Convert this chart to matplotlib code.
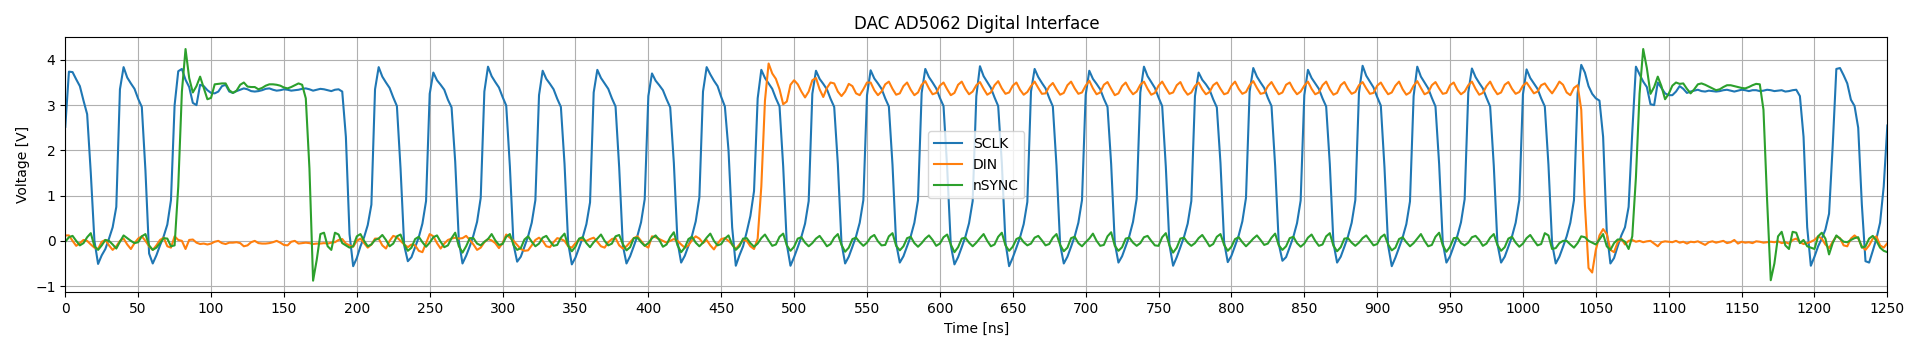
import numpy as np
import matplotlib
matplotlib.use("Agg")
import matplotlib.pyplot as plt

sample_step_ns = 2.5
series_names = ["SCLK", "DIN", "nSYNC"]
x_ticks = list(range(0, 1251, 50))
y_ticks = [-1, 0, 1, 2, 3, 4]

# SCLK: t = 0 .. 212.5
sclk_start = [2.52, 3.74, 3.73, 3.57, 3.42, 3.1, 2.8, 1.5, 0.0, -0.51,
              -0.32, -0.18, 0.05, 0.3, 0.75, 3.35, 3.84, 3.61, 3.48, 3.36,
              3.14, 2.96, 1.55, -0.28, -0.5, -0.32, -0.1, 0.1, 0.36, 0.9,
              3.0, 3.75, 3.8, 3.56, 3.4, 3.05, 3.0, 3.45, 3.42, 3.33,
              3.27, 3.26, 3.3, 3.42, 3.45, 3.3, 3.27, 3.31, 3.34, 3.37,
              3.35, 3.31, 3.3, 3.31, 3.33, 3.36, 3.37, 3.34, 3.32, 3.33,
              3.35, 3.34, 3.32, 3.33, 3.34, 3.36, 3.37, 3.35, 3.32, 3.34,
              3.36, 3.35, 3.33, 3.31, 3.34, 3.35, 3.3, 2.3, 0.15, -0.56,
              -0.38, -0.12, 0.08, 0.35, 0.8, 3.35]
# SCLK clock cycles, each starting at its peak: 215, 252.5, ..., 1040 ns
sclk_cycles = [
    [3.84, 3.63, 3.5, 3.38, 3.17, 2.98, 1.6, -0.1, -0.45, -0.36, -0.14, 0.08, 0.38, 0.88, 3.25],
    [3.72, 3.55, 3.45, 3.34, 3.12, 2.95, 1.75, 0.0, -0.5, -0.33, -0.12, 0.12, 0.42, 0.95, 3.3],
    [3.85, 3.64, 3.51, 3.39, 3.18, 2.99, 1.65, -0.08, -0.46, -0.35, -0.13, 0.1, 0.4, 0.9, 3.22],
    [3.76, 3.58, 3.47, 3.35, 3.14, 2.96, 1.7, -0.05, -0.52, -0.37, -0.15, 0.08, 0.37, 0.85, 3.28],
    [3.78, 3.6, 3.48, 3.36, 3.15, 2.97, 1.62, -0.1, -0.5, -0.34, -0.12, 0.11, 0.41, 0.92, 3.2],
    [3.7, 3.54, 3.44, 3.33, 3.13, 2.95, 1.72, -0.02, -0.48, -0.33, -0.11, 0.12, 0.43, 0.96, 3.3],
    [3.84, 3.68, 3.54, 3.42, 3.18, 2.97, 2.0, 0.3, -0.55, -0.32, -0.12, 0.2, 0.55, 1.1, 3.15],
    [3.78, 3.6, 3.48, 3.36, 3.15, 2.97, 1.65, -0.08, -0.55, -0.36, -0.14, 0.09, 0.38, 0.88, 3.25],
    [3.76, 3.58, 3.47, 3.35, 3.14, 2.96, 1.7, -0.05, -0.5, -0.35, -0.13, 0.1, 0.4, 0.9, 3.22],
    [3.77, 3.59, 3.48, 3.36, 3.15, 2.97, 1.68, -0.06, -0.48, -0.34, -0.12, 0.1, 0.4, 0.9, 3.27],
    [3.8, 3.62, 3.5, 3.37, 3.16, 2.98, 1.62, -0.1, -0.52, -0.36, -0.14, 0.09, 0.39, 0.88, 3.2],
    [3.86, 3.64, 3.51, 3.38, 3.17, 2.98, 1.72, -0.04, -0.56, -0.37, -0.15, 0.08, 0.37, 0.86, 3.3],
    [3.8, 3.62, 3.49, 3.37, 3.16, 2.97, 1.66, -0.08, -0.5, -0.35, -0.13, 0.1, 0.4, 0.9, 3.22],
    [3.76, 3.58, 3.47, 3.35, 3.14, 2.96, 1.7, -0.05, -0.48, -0.34, -0.12, 0.11, 0.42, 0.93, 3.28],
    [3.85, 3.64, 3.51, 3.38, 3.17, 2.98, 1.64, -0.09, -0.55, -0.36, -0.14, 0.09, 0.38, 0.88, 3.2],
    [3.72, 3.56, 3.46, 3.34, 3.13, 2.95, 1.72, -0.03, -0.47, -0.33, -0.11, 0.12, 0.43, 0.95, 3.3],
    [3.82, 3.63, 3.5, 3.38, 3.16, 2.98, 1.66, -0.07, -0.44, -0.36, -0.14, 0.09, 0.39, 0.89, 3.22],
    [3.78, 3.6, 3.48, 3.36, 3.15, 2.97, 1.7, -0.05, -0.48, -0.35, -0.13, 0.1, 0.4, 0.9, 3.27],
    [3.87, 3.65, 3.52, 3.39, 3.18, 2.99, 1.63, -0.1, -0.56, -0.37, -0.15, 0.08, 0.37, 0.87, 3.2],
    [3.85, 3.63, 3.5, 3.37, 3.16, 2.97, 1.7, -0.04, -0.48, -0.34, -0.12, 0.11, 0.41, 0.92, 3.28],
    [3.81, 3.62, 3.49, 3.37, 3.16, 2.97, 1.66, -0.07, -0.48, -0.35, -0.13, 0.1, 0.4, 0.9, 3.24],
    [3.79, 3.6, 3.48, 3.36, 3.15, 2.97, 1.68, -0.06, -0.5, -0.35, -0.13, 0.1, 0.4, 0.9, 3.26],
    [3.89, 3.72, 3.42, 3.25, 3.15, 3.1, 2.3, 0.2, -0.5, -0.38, -0.12, 0.12, 0.3, 0.75, 2.4],
]
# SCLK: t = 1077.5 .. 1250
sclk_end = [3.85, 3.68, 3.52, 3.4, 3.02, 3.0, 3.5, 3.38, 3.26, 3.22,
            3.22, 3.3, 3.42, 3.36, 3.27, 3.3, 3.32, 3.34, 3.31, 3.3,
            3.32, 3.31, 3.3, 3.31, 3.33, 3.34, 3.32, 3.3, 3.32, 3.34,
            3.33, 3.31, 3.33, 3.33, 3.31, 3.32, 3.34, 3.33, 3.31, 3.32,
            3.33, 3.3, 3.31, 3.33, 3.34, 3.2, 2.3, 0.3, -0.55, -0.35,
            -0.12, 0.05, 0.25, 0.6, 2.1, 3.8, 3.82, 3.66, 3.48, 3.12,
            2.98, 2.5, 0.8, -0.45, -0.48, -0.22, 0.05, 0.4, 1.2, 2.55]

# DIN: t = 0 .. 212.5
din_start = [0.12, 0.12, 0.0, -0.11, -0.05, 0.02, 0.0, -0.08, -0.15, -0.18,
             -0.02, 0.02, -0.1, -0.2, -0.12, 0.0, 0.05, -0.08, -0.18, -0.05,
             0.05, 0.1, 0.0, -0.12, -0.2, -0.1, 0.02, 0.07, -0.12, -0.15,
             0.1, 0.02, 0.0, -0.18, 0.02, 0.03, -0.04, -0.07, -0.06, -0.08,
             -0.06, -0.02, 0.0, -0.05, -0.07, -0.04, -0.04, -0.03, -0.05, -0.12,
             -0.1, -0.03, 0.0, -0.05, -0.06, -0.06, -0.05, -0.03, 0.0, -0.04,
             -0.09, -0.1, -0.02, 0.0, -0.06, -0.05, -0.04, -0.05, -0.07, -0.06,
             -0.06, -0.05, -0.06, -0.04, -0.03, 0.02, 0.04, -0.06, -0.1, -0.13,
             0.0, 0.05, -0.05, -0.15, -0.08, 0.05]
# DIN low: t = 215 .. 475
din_low = [0.05, -0.1, -0.17, 0.0, 0.11, 0.08, 0.0, -0.08, -0.14, -0.08,
           -0.1, -0.22, -0.25, -0.05, 0.15, 0.1, -0.05, -0.17, -0.06, 0.02,
           0.05, 0.07, 0.05, 0.06, 0.11, 0.02, -0.08, -0.2, -0.15, -0.03,
           0.04, 0.01, -0.05, -0.16, -0.05, 0.14, 0.07, 0.0, -0.09, -0.18,
           -0.22, -0.21, -0.1, 0.02, 0.07, 0.0, -0.12, -0.14, -0.03, 0.06,
           0.04, 0.0, -0.12, -0.15, -0.05, 0.03, 0.02, 0.0, 0.04, 0.07,
           -0.02, -0.12, -0.15, -0.03, 0.04, 0.06, -0.1, -0.17, -0.12, -0.03,
           0.06, 0.1, 0.0, -0.1, -0.15, 0.1, 0.08, 0.04, 0.0, -0.04,
           0.0, 0.04, 0.0, -0.08, -0.15, -0.1, 0.02, 0.1, 0.05, -0.05,
           0.02, -0.1, -0.19, -0.06, 0.04, 0.06, 0.0, -0.08, -0.18, -0.08,
           0.02, 0.0, -0.12, -0.18, 0.05]
# DIN rising edge: t = 477.5 .. 512.5
din_rise = [1.2, 3.1, 3.92, 3.7, 3.58, 3.35, 3.02, 3.08, 3.45, 3.55,
            3.46, 3.3, 3.17, 3.3, 3.55]
# DIN high, one list per SCLK cycle starting at 515, 552.5, ..., 1002.5 ns
din_high = [
    [3.6, 3.35, 3.18, 3.38, 3.5, 3.48, 3.3, 3.2, 3.3, 3.47, 3.42, 3.26, 3.22, 3.35, 3.5],
    [3.5, 3.33, 3.22, 3.3, 3.46, 3.52, 3.36, 3.23, 3.26, 3.42, 3.5, 3.34, 3.22, 3.28, 3.45],
    [3.53, 3.37, 3.24, 3.27, 3.43, 3.5, 3.35, 3.22, 3.27, 3.45, 3.52, 3.36, 3.24, 3.3, 3.44],
    [3.51, 3.36, 3.23, 3.28, 3.44, 3.53, 3.37, 3.25, 3.28, 3.43, 3.5, 3.34, 3.23, 3.29, 3.42],
    [3.52, 3.38, 3.25, 3.26, 3.41, 3.49, 3.35, 3.23, 3.27, 3.44, 3.52, 3.37, 3.25, 3.28, 3.43],
    [3.54, 3.37, 3.24, 3.28, 3.45, 3.51, 3.36, 3.22, 3.26, 3.42, 3.5, 3.35, 3.24, 3.3, 3.45],
    [3.52, 3.36, 3.23, 3.27, 3.43, 3.52, 3.38, 3.25, 3.28, 3.44, 3.51, 3.34, 3.23, 3.28, 3.42],
    [3.5, 3.35, 3.24, 3.29, 3.44, 3.5, 3.36, 3.24, 3.27, 3.43, 3.52, 3.36, 3.25, 3.29, 3.44],
    [3.53, 3.38, 3.25, 3.27, 3.42, 3.51, 3.37, 3.24, 3.28, 3.45, 3.5, 3.35, 3.24, 3.3, 3.43],
    [3.52, 3.36, 3.24, 3.28, 3.44, 3.52, 3.35, 3.23, 3.27, 3.44, 3.51, 3.36, 3.25, 3.29, 3.44],
    [3.51, 3.37, 3.25, 3.27, 3.43, 3.5, 3.36, 3.24, 3.28, 3.43, 3.52, 3.35, 3.23, 3.28, 3.43],
    [3.53, 3.38, 3.24, 3.28, 3.44, 3.51, 3.37, 3.25, 3.27, 3.44, 3.5, 3.34, 3.24, 3.3, 3.44],
    [3.52, 3.36, 3.23, 3.27, 3.42, 3.52, 3.36, 3.24, 3.28, 3.45, 3.51, 3.36, 3.25, 3.29, 3.43],
    [3.5, 3.38, 3.26, 3.3, 3.44, 3.48, 3.36, 3.26, 3.38, 3.52, 3.45, 3.28, 3.22, 3.38, 3.44],
]
# DIN falling edge and tail: t = 1040 .. 1250
din_end = [2.9, 0.8, -0.6, -0.7, -0.2, 0.12, 0.26, 0.15, -0.2, -0.25,
           -0.03, 0.05, -0.08, 0.0, 0.02, -0.02, 0.0, -0.03, -0.01, 0.0,
           -0.06, -0.12, -0.03, -0.01, -0.02, -0.03, 0.0, -0.04, -0.02, -0.06,
           -0.02, -0.03, -0.01, -0.05, -0.09, -0.03, -0.01, -0.04, -0.02, 0.0,
           -0.05, -0.03, 0.02, -0.06, -0.02, -0.04, -0.03, -0.05, -0.01, -0.02,
           -0.04, -0.03, -0.02, -0.03, -0.01, -0.05, -0.03, -0.06, 0.02, 0.05,
           -0.03, -0.07, -0.05, -0.02, 0.02, 0.1, 0.05, -0.08, -0.16, -0.02,
           0.1, 0.06, -0.1, -0.12, 0.05, 0.12, 0.05, -0.12, -0.2, -0.1,
           0.05, 0.1, -0.1, -0.15, -0.05]

# nSYNC: t = 0 .. 212.5
nsync_start = [-0.02, 0.08, 0.11, 0.0, -0.1, -0.05, 0.08, 0.17, -0.12, -0.2,
               -0.1, 0.02, 0.0, -0.08, -0.17, -0.02, 0.12, 0.06, 0.0, -0.05,
               -0.03, 0.1, 0.15, -0.1, -0.2, -0.15, -0.05, 0.06, 0.05, -0.12,
               -0.1, 1.2, 3.3, 4.24, 3.6, 3.28, 3.42, 3.63, 3.38, 3.13,
               3.16, 3.46, 3.47, 3.48, 3.48, 3.33, 3.27, 3.32, 3.45, 3.5,
               3.41, 3.4, 3.4, 3.35, 3.38, 3.43, 3.46, 3.46, 3.45, 3.43,
               3.39, 3.37, 3.4, 3.44, 3.48, 3.45, 3.15, 1.6, -0.88, -0.42,
               0.15, 0.18, -0.12, -0.2, 0.18, 0.14, -0.05, -0.1, -0.15, -0.12,
               0.1, 0.15, 0.0, -0.12, -0.08, 0.02]
# nSYNC low, one list per SCLK cycle starting at 215, 252.5, ..., 1040 ns
nsync_cycles = [
    [0.05, 0.13, 0.02, -0.12, -0.06, 0.1, 0.14, -0.08, -0.22, -0.15, 0.04, 0.09, -0.03, -0.13, -0.04],
    [0.08, 0.12, -0.02, -0.14, -0.1, 0.06, 0.18, -0.12, -0.26, -0.12, 0.06, 0.06, -0.06, -0.1, -0.02],
    [0.04, 0.15, 0.01, -0.09, -0.07, 0.09, 0.15, -0.09, -0.2, -0.16, 0.03, 0.1, -0.02, -0.12, -0.06],
    [0.07, 0.11, -0.01, -0.11, -0.09, 0.07, 0.16, -0.11, -0.23, -0.13, 0.05, 0.08, -0.05, -0.14, -0.03],
    [0.05, 0.14, 0.0, -0.1, -0.06, 0.1, 0.13, -0.07, -0.21, -0.14, 0.06, 0.07, -0.03, -0.11, -0.05],
    [0.06, 0.12, 0.02, -0.13, -0.08, 0.08, 0.19, -0.1, -0.25, -0.15, 0.04, 0.09, -0.04, -0.12, -0.04],
    [0.07, 0.16, 0.0, -0.1, -0.07, 0.05, 0.12, -0.08, -0.2, -0.12, 0.05, 0.06, -0.05, -0.13, -0.06],
    [0.06, 0.14, 0.01, -0.11, -0.08, 0.09, 0.16, -0.1, -0.22, -0.13, 0.05, 0.08, -0.04, -0.12, -0.05],
    [0.05, 0.11, 0.0, -0.12, -0.07, 0.07, 0.15, -0.09, -0.24, -0.15, 0.04, 0.07, -0.03, -0.11, -0.04],
    [0.08, 0.13, -0.01, -0.1, -0.09, 0.1, 0.17, -0.11, -0.21, -0.12, 0.06, 0.09, -0.05, -0.13, -0.05],
    [0.05, 0.12, 0.02, -0.11, -0.06, 0.08, 0.14, -0.08, -0.25, -0.14, 0.05, 0.07, -0.04, -0.12, -0.04],
    [0.06, 0.15, 0.0, -0.12, -0.08, 0.09, 0.18, -0.1, -0.22, -0.13, 0.04, 0.08, -0.03, -0.1, -0.06],
    [0.07, 0.11, 0.01, -0.1, -0.07, 0.07, 0.15, -0.09, -0.23, -0.15, 0.06, 0.09, -0.05, -0.12, -0.03],
    [0.05, 0.16, 0.0, -0.11, -0.09, 0.1, 0.19, -0.11, -0.22, -0.14, 0.05, 0.07, -0.04, -0.11, -0.05],
    [0.08, 0.11, 0.0, -0.1, -0.11, 0.08, 0.17, -0.1, -0.26, -0.15, 0.05, 0.07, -0.04, -0.11, -0.05],
    [0.06, 0.13, 0.01, -0.12, -0.07, 0.09, 0.15, -0.09, -0.22, -0.13, 0.04, 0.08, -0.03, -0.12, -0.04],
    [0.05, 0.12, 0.02, -0.09, -0.06, 0.07, 0.16, -0.1, -0.2, -0.12, 0.06, 0.09, -0.05, -0.13, -0.06],
    [0.07, 0.14, 0.0, -0.11, -0.08, 0.1, 0.17, -0.11, -0.23, -0.14, 0.05, 0.06, -0.04, -0.11, -0.04],
    [0.06, 0.12, 0.01, -0.1, -0.07, 0.08, 0.14, -0.08, -0.21, -0.15, 0.04, 0.08, -0.03, -0.12, -0.05],
    [0.05, 0.15, 0.0, -0.12, -0.09, 0.09, 0.18, -0.1, -0.24, -0.13, 0.06, 0.07, -0.05, -0.1, -0.04],
    [0.08, 0.11, 0.02, -0.11, -0.06, 0.07, 0.15, -0.09, -0.22, -0.14, 0.05, 0.09, -0.04, -0.13, -0.06],
    [0.06, 0.13, 0.01, -0.1, -0.07, 0.17, 0.12, -0.18, -0.16, -0.05, 0.0, 0.0, -0.08, -0.15, -0.05],
    [0.1, 0.08, 0.0, -0.04, -0.08, 0.03, 0.15, -0.12, -0.2, -0.05, 0.03, 0.03, -0.02, -0.18, 0.1],
]
# nSYNC: t = 1077.5 .. 1250
nsync_end = [1.4, 3.25, 4.24, 3.82, 3.25, 3.4, 3.63, 3.42, 3.13, 3.25,
             3.43, 3.5, 3.47, 3.48, 3.36, 3.26, 3.35, 3.46, 3.48, 3.45,
             3.41, 3.37, 3.33, 3.35, 3.4, 3.44, 3.44, 3.42, 3.4, 3.38,
             3.37, 3.4, 3.44, 3.47, 3.46, 2.9, 0.9, -0.87, -0.5, 0.1,
             0.2, -0.1, -0.18, 0.2, 0.18, -0.05, 0.02, -0.12, -0.15, -0.18,
             0.1, 0.18, 0.05, -0.3, -0.05, 0.12, 0.05, -0.02, -0.03, 0.02,
             0.06, 0.08, -0.15, -0.12, 0.05, 0.11, 0.0, -0.15, -0.22, -0.25]

# ---------------- assemble ----------------
sclk = sclk_start + [v for c in sclk_cycles for v in c] + sclk_end
din = din_start + din_low + din_rise + [v for c in din_high for v in c] + din_end
nsync = nsync_start + [v for c in nsync_cycles for v in c] + nsync_end
n = min(len(sclk), len(din), len(nsync))
time_ns = np.arange(n) * sample_step_ns

fig = plt.figure(figsize=(19.2, 3.5), dpi=100)
ax = fig.add_axes([0.034, 0.165, 0.949, 0.728])
ax.plot(time_ns, sclk[:n], label=series_names[0], color="#1f77b4", lw=1.5)
ax.plot(time_ns, din[:n], label=series_names[1], color="#ff7f0e", lw=1.5)
ax.plot(time_ns, nsync[:n], label=series_names[2], color="#2ca02c", lw=1.5)
ax.set_xlim(0, 1250)
ax.set_xticks(x_ticks)
ax.set_yticks(y_ticks)
ax.set_title("DAC AD5062 Digital Interface", fontsize=12)
ax.set_xlabel("Time [ns]")
ax.set_ylabel("Voltage [V]")
ax.grid(True)
ax.legend(loc="center")
fig.savefig("out.png", dpi=100)
